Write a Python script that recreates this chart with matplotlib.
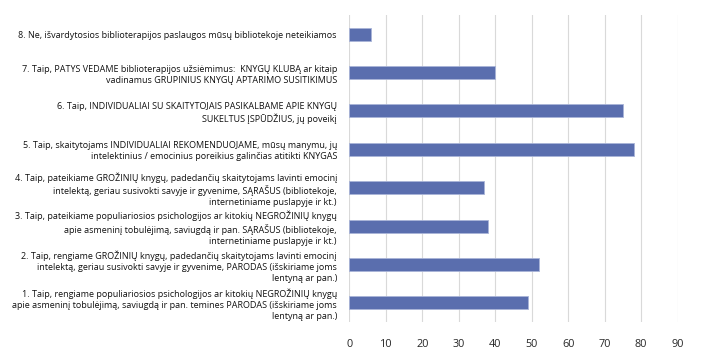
import numpy as np
import matplotlib.pyplot as plt

# Atsakymų variantai (nuo apačios į viršų) ir reikšmės
labels = [
    "1. Taip, rengiame populiariosios psichologijos ar kitokių NEGROŽINIŲ knygų\napie asmeninį tobulėjimą, saviugdą ir pan. temines PARODAS (išskiriame joms\nlentyną ar pan.)",
    "2. Taip, rengiame GROŽINIŲ knygų, padedančių skaitytojams lavinti emocinį\nintelektą, geriau susivokti savyje ir gyvenime, PARODAS (išskiriame joms\nlentyną ar pan.)",
    "3. Taip, pateikiame populiariosios psichologijos ar kitokių NEGROŽINIŲ knygų\napie asmeninį tobulėjimą, saviugdą ir pan. SĄRAŠUS (bibliotekoje,\ninternetiniame puslapyje ir kt.)",
    "4. Taip, pateikiame GROŽINIŲ knygų, padedančių skaitytojams lavinti emocinį\nintelektą, geriau susivokti savyje ir gyvenime, SĄRAŠUS (bibliotekoje,\ninternetiniame puslapyje ir kt.)",
    "5. Taip, skaitytojams INDIVIDUALIAI REKOMENDUOJAME, mūsų manymu, jų\nintelektinius / emocinius poreikius galinčias atitikti KNYGAS",
    "6. Taip, INDIVIDUALIAI SU SKAITYTOJAIS PASIKALBAME APIE KNYGŲ\nSUKELTUS ĮSPŪDŽIUS, jų poveikį",
    "7. Taip, PATYS VEDAME biblioterapijos užsiėmimus:  KNYGŲ KLUBĄ ar kitaip\nvadinamus GRUPINIUS KNYGŲ APTARIMO SUSITIKIMUS",
    "8. Ne, išvardytosios biblioterapijos paslaugos mūsų bibliotekoje neteikiamos",
]
values = [49, 52, 38, 37, 78, 75, 40, 6]
xticks = [0, 10, 20, 30, 40, 50, 60, 70, 80, 90]

plt.rcParams['font.family'] = ['Open Sans', 'DejaVu Sans']

fig = plt.figure(figsize=(7.06, 3.62), dpi=100)
ax = fig.add_axes([0.495, 0.1105, 0.4647, 0.848])

y = np.arange(len(values))
ax.barh(y, values, height=0.34, color='#5a6eae', edgecolor='#a9b4d8', linewidth=0.6, zorder=3)

ax.set_xlim(0, 90)
ax.set_ylim(-0.5, len(values) - 0.5)
ax.set_xticks(xticks)
ax.set_xticklabels([str(t) for t in xticks], fontsize=7.8, color='#262626')
ax.set_yticks(y)
ax.set_yticklabels(labels, fontsize=6.5, color='#111111', ha='right', multialignment='right', linespacing=1.3)

ax.grid(axis='x', color='#d9d9d9', linewidth=0.8, zorder=0)
for s in ax.spines.values():
    s.set_visible(False)
ax.tick_params(axis='both', length=0)
ax.tick_params(axis='y', pad=9)
ax.tick_params(axis='x', pad=12)

fig.savefig('out.png', dpi=100)
